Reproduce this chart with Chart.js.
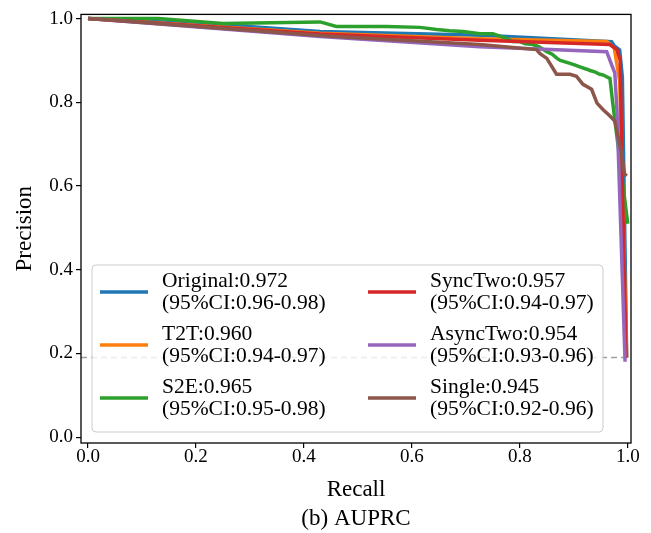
<!DOCTYPE html>
<html>
<head>
<meta charset="utf-8">
<script src="https://cdn.jsdelivr.net/npm/chart.js@4/dist/chart.umd.min.js"></script>
<style>
  body { margin: 0; background: #fff; }
  #wrap { width: 651px; height: 533px; position: relative; }
</style>
</head>
<body>
<div id="wrap"><canvas id="chart"></canvas></div>
<script>
// curve data (recall / precision)
const recallOriginal = [0, 0.25, 0.43, 0.73, 0.97, 0.975, 0.985, 0.99, 0.998]
const precisionOriginal = [1, 0.985, 0.969, 0.96, 0.945, 0.935, 0.925, 0.86, 0.19]

const recallT2T = [0, 0.43, 0.726, 0.961, 0.975, 0.978, 0.985, 0.998]
const precisionT2T = [1, 0.965, 0.952, 0.945, 0.93, 0.905, 0.85, 0.19]

const recallS2E = [0, 0.13, 0.25, 0.43, 0.46, 0.553, 0.615, 0.646, 0.67, 0.695, 0.726, 0.75, 0.776, 0.787, 0.8, 0.81, 0.824, 0.835, 0.845, 0.85, 0.86, 0.869, 0.875, 0.893, 0.9, 0.91, 0.924, 0.93, 0.94, 0.948, 0.955, 0.962, 0.967, 0.972, 1.0]
const precisionS2E = [1, 1.0, 0.988, 0.992, 0.981, 0.981, 0.979, 0.974, 0.971, 0.969, 0.964, 0.964, 0.952, 0.945, 0.945, 0.94, 0.938, 0.933, 0.925, 0.921, 0.915, 0.905, 0.9, 0.893, 0.89, 0.885, 0.879, 0.876, 0.872, 0.867, 0.865, 0.86, 0.857, 0.80, 0.51]

const recallSyncTwo = [0, 0.43, 0.726, 0.967, 0.98, 0.986, 0.99, 0.997]
const precisionSyncTwo = [1, 0.963, 0.948, 0.938, 0.926, 0.9, 0.6, 0.19]

const recallAsyncTwo = [0, 0.43, 0.726, 0.961, 0.967, 0.976, 0.98, 0.995]
const precisionAsyncTwo = [1, 0.957, 0.933, 0.921, 0.9, 0.87, 0.78, 0.18]

const recallSingle = [0, 0.448, 0.726, 0.831, 0.837, 0.85, 0.868, 0.893, 0.905, 0.917, 0.933, 0.943, 0.954, 0.967, 0.976, 0.981, 0.989, 0.994, 0.998]
const precisionSingle = [1, 0.958, 0.938, 0.926, 0.917, 0.905, 0.867, 0.867, 0.862, 0.843, 0.831, 0.798, 0.783, 0.767, 0.755, 0.724, 0.676, 0.629, 0.624]

const baselineRecall = [-0.013, 1.0]
const baselinePrecision = [0.19, 0.19]

const modelNames = ['Original', 'T2T', 'S2E', 'SyncTwo', 'AsyncTwo', 'Single']
const auprcScores = ['0.972', '0.960', '0.965', '0.957', '0.954', '0.945']
const ciRanges = ['0.96-0.98', '0.94-0.97', '0.95-0.98', '0.94-0.97', '0.93-0.96', '0.92-0.96']
const tickValues = [0, 0.2, 0.4, 0.6, 0.8, 1.0]

const colors = ['#1f77b4', '#ff7f0e', '#2ca02c', '#d62728', '#9467bd', '#8c564b']
const FONT = '"Liberation Serif", "Times New Roman", serif'

const toPoints = (rec, prec) => rec.map((r, i) => ({x: r, y: prec[i]}))

const curves = [
  toPoints(recallOriginal, precisionOriginal),
  toPoints(recallT2T, precisionT2T),
  toPoints(recallS2E, precisionS2E),
  toPoints(recallSyncTwo, precisionSyncTwo),
  toPoints(recallAsyncTwo, precisionAsyncTwo),
  toPoints(recallSingle, precisionSingle),
]

const datasets = curves.map((pts, i) => ({
  label: modelNames[i] + ':' + auprcScores[i],
  data: pts,
  borderColor: colors[i],
  borderWidth: 3.5,
  pointRadius: 0,
  showLine: true,
  tension: 0,
  order: 6 - i, // later ones on top, like matplotlib
}))

datasets.push({
  label: 'baseline',
  data: toPoints(baselineRecall, baselinePrecision),
  borderColor: '#a0a0a0',
  borderWidth: 1.5,
  borderDash: [6, 4],
  pointRadius: 0,
  showLine: true,
  order: 10,
})

// box round the plot area
const framePlugin = {
  id: 'frame',
  afterDatasetsDraw(chart) {
    const {ctx, chartArea: a} = chart
    ctx.save()
    ctx.strokeStyle = '#000'
    ctx.lineWidth = 1.3
    ctx.strokeRect(a.left, a.top, a.right - a.left, a.bottom - a.top)
    ctx.restore()
  }
}

// matplotlib style legend inside the axes, two columns
const legendPlugin = {
  id: 'innerLegend',
  afterDraw(chart) {
    const ctx = chart.ctx
    const box = {x: 92, y: 265, w: 511, h: 167}
    ctx.save()
    ctx.beginPath()
    ctx.roundRect(box.x, box.y, box.w, box.h, 4)
    ctx.fillStyle = 'rgba(255,255,255,0.8)'
    ctx.fill()
    ctx.strokeStyle = '#cccccc'
    ctx.lineWidth = 1
    ctx.stroke()

    ctx.font = '21.5px ' + FONT
    ctx.fillStyle = '#000'
    ctx.textBaseline = 'middle'
    for (let i = 0; i < modelNames.length; i++) {
      const col = Math.floor(i / 3)
      const row = i % 3
      const hx = col === 0 ? 100 : 368
      const rowY = 281 + row * 53
      ctx.strokeStyle = colors[i]
      ctx.lineWidth = 3.5
      ctx.beginPath()
      ctx.moveTo(hx, rowY + 11)
      ctx.lineTo(hx + 48, rowY + 11)
      ctx.stroke()
      ctx.fillText(modelNames[i] + ':' + auprcScores[i], hx + 62, rowY)
      ctx.fillText('(95%CI:' + ciRanges[i] + ')', hx + 62, rowY + 22)
    }
    ctx.restore()
  }
}

new Chart('chart', {
  type: 'scatter',
  data: {datasets: datasets},
  options: {
    responsive: true,
    maintainAspectRatio: false,
    animation: false,
    layout: {padding: {left: 0, right: 20, top: 13, bottom: 0}},
    plugins: {
      legend: {display: false},
      tooltip: {enabled: false}
    },
    scales: {
      x: {
        type: 'linear',
        min: -0.013,
        max: 1.006,
        afterBuildTicks: (axis) => { axis.ticks = tickValues.map(v => ({value: v})) },
        afterFit: (axis) => { axis.height = 90 },
        border: {display: false},
        grid: {drawOnChartArea: false, drawTicks: true, tickLength: 5, color: '#000', lineWidth: 1.2},
        ticks: {
          color: '#000',
          font: {family: FONT, size: 19},
          padding: -2,
          maxRotation: 0,
          callback: (v) => v.toFixed(1)
        },
        title: {
          display: true,
          text: ['Recall', '(b) AUPRC'],
          color: '#000',
          font: {family: FONT, size: 23, lineHeight: 1.25},
          padding: {top: 0, bottom: 0}
        }
      },
      y: {
        type: 'linear',
        min: -0.014,
        max: 1.01,
        afterBuildTicks: (axis) => { axis.ticks = tickValues.map(v => ({value: v})) },
        afterFit: (axis) => { axis.width = 81 },
        border: {display: false},
        grid: {drawOnChartArea: false, drawTicks: true, tickLength: 5, color: '#000', lineWidth: 1.2},
        ticks: {
          color: '#000',
          font: {family: FONT, size: 19},
          padding: 3,
          callback: (v) => v.toFixed(1)
        },
        title: {
          display: true,
          text: 'Precision',
          color: '#000',
          font: {family: FONT, size: 23},
          padding: {top: 11, bottom: 0}
        }
      }
    }
  },
  plugins: [framePlugin, legendPlugin]
})
</script>
</body>
</html>
